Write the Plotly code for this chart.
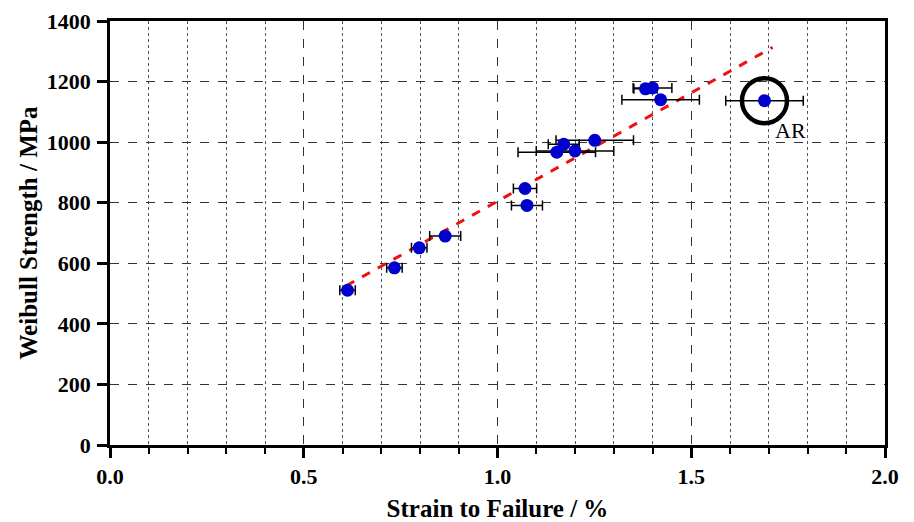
import plotly.graph_objects as go

# strain to failure (%) and Weibull strength (MPa)
strain = [0.613, 0.734, 0.798, 0.865, 1.071, 1.076, 1.153, 1.171, 1.200, 1.251, 1.382, 1.400, 1.421]
strength = [511, 585, 651, 690, 847, 791, 967, 993, 971, 1006, 1176, 1179, 1140]
strain_err = [0.02, 0.02, 0.02, 0.04, 0.03, 0.04, 0.10, 0.04, 0.10, 0.10, 0.03, 0.05, 0.10]

# as-received sample (circled)
ar_strain = [1.689]
ar_strength = [1137]
ar_err = [0.10]

# linear fit end points
fit_x = [0.61, 1.71]
fit_y = [526, 1313]

font = "Liberation Serif, Times New Roman, serif"

fig = go.Figure()

fig.add_trace(go.Scatter(x=fit_x, y=fit_y, mode="lines",
                         line=dict(color="#ee1111", width=3, dash="dash")))

fig.add_trace(go.Scatter(
    x=strain, y=strength, mode="markers",
    marker=dict(color="#0000cc", size=13),
    error_x=dict(type="data", array=strain_err, color="black", thickness=1.5, width=5),
))

fig.add_trace(go.Scatter(
    x=ar_strain, y=ar_strength, mode="markers",
    marker=dict(color="#0000cc", size=13),
    error_x=dict(type="data", array=ar_err, color="black", thickness=1.5, width=5),
))

# circle around AR point
fig.add_trace(go.Scatter(
    x=ar_strain, y=ar_strength, mode="markers",
    marker=dict(symbol="circle-open", size=45, color="black", line=dict(width=4.5, color="black")),
))

fig.add_annotation(x=1.757, y=1038, text="AR", showarrow=False,
                   font=dict(family=font, size=22, color="black"))

fig.update_xaxes(
    range=[0, 2.0], tick0=0, dtick=0.5, tickformat=".1f",
    ticks="outside", ticklen=10, tickwidth=2.5, tickcolor="black",
    showline=True, linewidth=2.5, linecolor="black", mirror=True,
    showgrid=True, gridcolor="#333333", gridwidth=1, griddash="dash",
    minor=dict(dtick=0.1, ticks="outside", ticklen=6, tickwidth=1.5, tickcolor="black",
               showgrid=True, gridcolor="#555555", gridwidth=1, griddash="dot"),
    zeroline=False, automargin=False, ticklabeloverflow="allow",
    tickfont=dict(family=font, size=22, color="black"),
    title=dict(text="<b>Strain to Failure / %</b>", font=dict(family=font, size=25, color="black"), standoff=22),
)

fig.update_yaxes(
    range=[0, 1400], dtick=200,
    ticks="outside", ticklen=10, tickwidth=2.5, tickcolor="black",
    showline=True, linewidth=2.5, linecolor="black", mirror=True,
    showgrid=True, gridcolor="#333333", gridwidth=1, griddash="dash",
    zeroline=False, automargin=False, ticklabelstandoff=2, ticklabeloverflow="allow",
    tickfont=dict(family=font, size=22, color="black"),
    title=dict(text="<b>Weibull Strength / MPa</b>", font=dict(family=font, size=25, color="black"), standoff=3),
)

fig.update_layout(
    width=906, height=514,
    margin=dict(l=102, r=29, t=13, b=77),
    plot_bgcolor="white", paper_bgcolor="white",
    showlegend=False,
    font=dict(family=font, color="black"),
)

# tick labels in bold
fig.update_xaxes(tickprefix="<b>", ticksuffix="</b>")
fig.update_yaxes(tickprefix="<b>", ticksuffix="</b>")

fig.write_html("out.html")
